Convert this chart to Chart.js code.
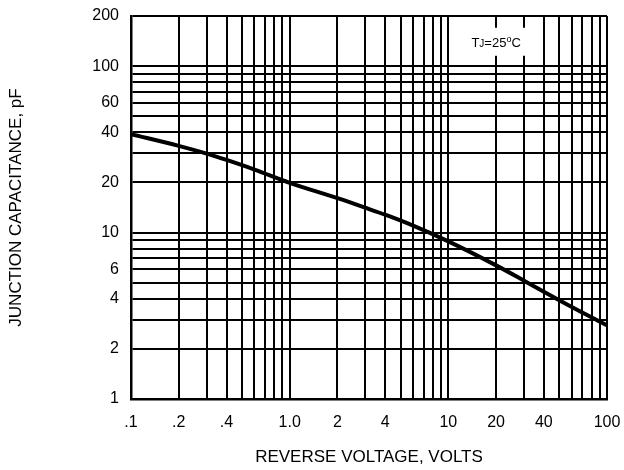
<!DOCTYPE html>
<html>
<head>
<meta charset="utf-8">
<script src="https://cdn.jsdelivr.net/npm/chart.js@4.4.0/dist/chart.umd.min.js"></script>
<style>
  html, body { margin: 0; padding: 0; background: #fff; }
</style>
</head>
<body>
<canvas id="capChart" width="624" height="470"></canvas>
<script>
// reverse voltage (V) and junction capacitance (pF)
let voltage = [0.1, 0.2, 0.3, 0.4, 0.6, 1, 2, 3, 4, 6, 10, 20, 30, 40, 60, 100];
let capacitance = [39, 33.2, 29.8, 27.3, 23.9, 19.9, 16.1, 14.1, 12.8, 11.0, 8.85, 6.35, 5.14, 4.41, 3.57, 2.77];

let xGrid = [0.1, 0.2, 0.3, 0.4, 0.5, 0.6, 0.7, 0.8, 0.9, 1, 2, 3, 4, 5, 6, 7, 8, 9, 10, 20, 30, 40, 50, 60, 70, 80, 90, 100];
let xTickValues = [0.1, 0.2, 0.4, 1, 2, 4, 10, 20, 40, 100];
let xTickText = [".1", ".2", ".4", "1.0", "2", "4", "10", "20", "40", "100"];

let yGrid = [1, 2, 3, 4, 5, 6, 7, 8, 9, 10, 20, 30, 40, 50, 60, 70, 80, 90, 100, 200];
let yTickValues = [1, 2, 4, 6, 10, 20, 40, 60, 100, 200];
let yTickText = ["1", "2", "4", "6", "10", "20", "40", "60", "100", "200"];

let noteAt = { x: 20, y: 140 };

function labelFor(values, texts, v) {
  for (let i = 0; i < values.length; i++) {
    if (Math.abs(values[i] - v) < 1e-9) return texts[i];
  }
  return "";
}

// "TJ=25°C" note in a white box over the grid
const tempNote = {
  id: "tempNote",
  afterDraw(chart) {
    const ctx = chart.ctx;
    const cx = chart.scales.x.getPixelForValue(noteAt.x);
    const cy = chart.scales.y.getPixelForValue(noteAt.y);
    const parts = [
      { t: "T", f: "13px 'Liberation Sans'", dy: 0 },
      { t: "J", f: "10px 'Liberation Sans'", dy: 0 },
      { t: "=25", f: "13px 'Liberation Sans'", dy: 0 },
      { t: "o", f: "9px 'Liberation Sans'", dy: -5 },
      { t: "C", f: "13px 'Liberation Sans'", dy: 0 },
    ];
    ctx.save();
    let w = 0;
    parts.forEach(p => { ctx.font = p.f; p.w = ctx.measureText(p.t).width; w += p.w; });
    ctx.fillStyle = "#fff";
    ctx.fillRect(cx - w / 2 - 6, cy - 14, w + 12, 28);
    ctx.fillStyle = "#000";
    ctx.textBaseline = "alphabetic";
    let x = cx - w / 2;
    parts.forEach(p => {
      ctx.font = p.f;
      ctx.fillText(p.t, x, cy + 5 + p.dy);
      x += p.w;
    });
    ctx.restore();
  }
};

let points = voltage.map((v, i) => ({ x: v, y: capacitance[i] }));

let capChart = new Chart(document.getElementById("capChart").getContext("2d"), {
  type: "line",
  data: {
    datasets: [
      {
        data: points,
        borderColor: "#000",
        borderWidth: 4,
        pointRadius: 0,
        fill: false,
        cubicInterpolationMode: "monotone",
      },
    ],
  },
  options: {
    responsive: false,
    animation: false,
    layout: { padding: { left: 0, right: 17, top: 16, bottom: 0 } },
    plugins: {
      legend: { display: false },
      tooltip: { enabled: false },
    },
    scales: {
      x: {
        type: "logarithmic",
        min: 0.1,
        max: 100,
        afterBuildTicks: axis => { axis.ticks = xGrid.map(v => ({ value: v })); },
        afterFit: axis => {
          axis.height = 71;
          axis.paddingLeft = 0;
          axis.paddingRight = 0;
        },
        grid: { color: "#000", lineWidth: 2, drawTicks: false },
        border: { color: "#000", width: 2.5 },
        ticks: {
          autoSkip: false,
          maxRotation: 0,
          padding: 14,
          color: "#000",
          font: { family: "'Liberation Sans'", size: 16 },
          callback: v => labelFor(xTickValues, xTickText, v),
        },
        title: {
          display: true,
          text: "REVERSE VOLTAGE, VOLTS",
          color: "#000",
          font: { family: "'Liberation Sans'", size: 17 },
          padding: { top: 0, bottom: 2 },
        },
      },
      y: {
        type: "logarithmic",
        min: 1,
        max: 200,
        afterBuildTicks: axis => { axis.ticks = yGrid.map(v => ({ value: v })); },
        afterFit: axis => {
          axis.width = 131;
          axis.paddingTop = 0;
          axis.paddingBottom = 0;
        },
        grid: { color: "#000", lineWidth: 2, drawTicks: false },
        border: { color: "#000", width: 2.5 },
        ticks: {
          autoSkip: false,
          padding: 12,
          color: "#000",
          font: { family: "'Liberation Sans'", size: 16 },
          callback: v => labelFor(yTickValues, yTickText, v),
        },
        title: {
          display: true,
          text: "JUNCTION CAPACITANCE, pF",
          color: "#000",
          font: { family: "'Liberation Sans'", size: 17 },
          padding: { top: 6, bottom: 0 },
        },
      },
    },
  },
  plugins: [tempNote],
});
</script>
</body>
</html>
